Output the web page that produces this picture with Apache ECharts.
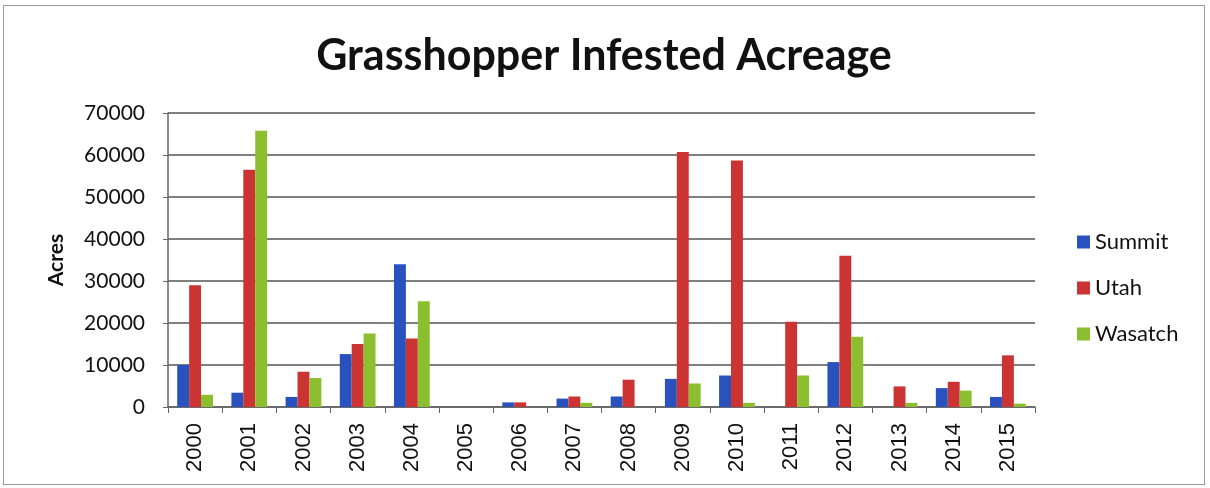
<!DOCTYPE html>
<html>
<head>
<meta charset="utf-8">
<script src="https://cdn.jsdelivr.net/npm/echarts@6/dist/echarts.min.js"></script>
<style>
  html, body { margin: 0; padding: 0; background: #fff; }
  #chart { position: absolute; left: 3px; top: 5px; width: 1202px; height: 480px; border: 1px solid #9a9a9a; box-sizing: border-box; }
</style>
</head>
<body>
<div id="chart"></div>
<script>
  // data
  const years = ['2000', '2001', '2002', '2003', '2004', '2005', '2006', '2007',
    '2008', '2009', '2010', '2011', '2012', '2013', '2014', '2015']
  const summit = [10000, 3400, 2400, 12600, 34000, 0, 1100, 2000, 2500, 6700, 7500, 0, 10700, 0, 4500, 2400]
  const utah = [29000, 56500, 8400, 15000, 16300, 0, 1100, 2500, 6500, 60700, 58700, 20300, 36000, 4900, 6000, 12300]
  const wasatch = [2900, 65800, 6900, 17500, 25200, 0, 0, 1000, 0, 5600, 1000, 7500, 16700, 1000, 3900, 800]
  const yTicks = [0, 10000, 20000, 30000, 40000, 50000, 60000, 70000]

  const font = 'Lato, "Open Sans", sans-serif'
  const myChart = echarts.init(document.getElementById('chart'))

  function bar(name, data, color) {
    return {
      name: name,
      type: 'bar',
      data: data,
      barGap: '0%',
      barCategoryGap: '34%',
      itemStyle: { color: color }
    }
  }

  myChart.setOption({
    animation: false,
    textStyle: { fontFamily: font },
    title: {
      text: 'Grasshopper Infested Acreage',
      left: 'center',
      top: 24,
      textStyle: { fontSize: 43, fontWeight: 'bold', color: '#111', fontFamily: font }
    },
    legend: {
      orient: 'vertical',
      left: 1068,
      top: 220,
      itemWidth: 13,
      itemHeight: 13,
      itemGap: 24,
      icon: 'rect',
      textStyle: { fontSize: 22, color: '#111', fontFamily: font }
    },
    grid: { left: 164, top: 107, width: 867, height: 294, containLabel: false },
    xAxis: {
      type: 'category',
      data: years,
      boundaryGap: true,
      axisLine: { lineStyle: { color: '#666', width: 1.5 } },
      axisTick: { show: true, length: 6, lineStyle: { color: '#666' } },
      axisLabel: { rotate: 90, fontSize: 22, color: '#111', margin: 16, fontFamily: '"Liberation Sans", Arial, sans-serif' }
    },
    yAxis: {
      type: 'value',
      min: yTicks[0],
      max: yTicks[yTicks.length - 1],
      interval: 10000,
      name: 'Acres',
      nameLocation: 'middle',
      nameGap: 101,
      nameRotate: 90,
      nameTextStyle: { fontSize: 21, fontWeight: 'bold', color: '#111', fontFamily: font },
      axisLine: { show: true, lineStyle: { color: '#666', width: 1.5 } },
      axisTick: { show: true, length: 5, lineStyle: { color: '#666' } },
      axisLabel: { fontSize: 21, color: '#111', margin: 23, fontFamily: font, formatter: v => String(v) },
      splitLine: { lineStyle: { color: '#555', width: 1.5 } }
    },
    series: [
      bar('Summit', summit, '#2a52be'),
      bar('Utah', utah, '#cc3333'),
      bar('Wasatch', wasatch, '#8cbf2f')
    ]
  })
</script>
</body>
</html>
